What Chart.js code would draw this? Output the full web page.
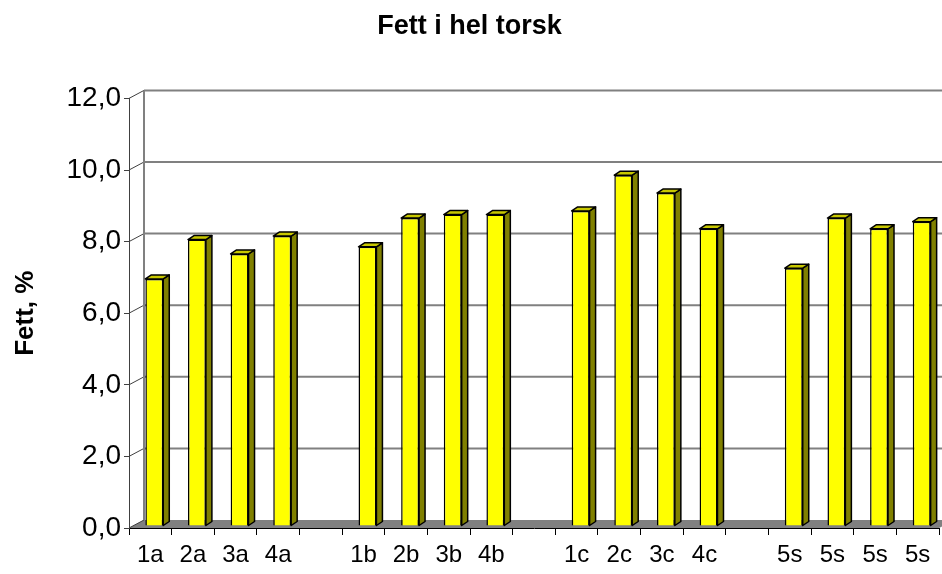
<!DOCTYPE html>
<html>
<head>
<meta charset="utf-8">
<script src="https://cdn.jsdelivr.net/npm/chart.js@4/dist/chart.umd.min.js"></script>
<style>
  html, body { margin: 0; padding: 0; background: #fff; }
  #boks { width: 942px; height: 574px; }
</style>
</head>
<body>
<div id="boks"><canvas id="fettChart"></canvas></div>
<script>
// Prøvenavn (tom streng = mellomrom mellom gruppene)
const kategorier = ['1a', '2a', '3a', '4a', '', '1b', '2b', '3b', '4b', '', '1c', '2c', '3c', '4c', '', '5s', '5s', '5s', '5s'];
// Fett i hel torsk, %
const fettVerdier = [6.9, 8.0, 7.6, 8.1, null, 7.8, 8.6, 8.7, 8.7, null, 8.8, 9.8, 9.3, 8.3, null, 7.2, 8.6, 8.3, 8.5];
const yMerker = [0, 2, 4, 6, 8, 10, 12];

// 3D-forskyvning for bakveggen og søylene
const veggDx = 15, veggDy = -8;
const soyleDx = 4, soyleDy = -2;
const dybdeDx = 6, dybdeDy = -4;

const veggPlugin = {
    id: 'vegg3d',
    beforeDraw(chart) {
        const c = chart.ctx;
        const a = chart.chartArea;
        const y = chart.scales.y;
        c.save();
        c.fillStyle = '#ffffff';
        c.fillRect(0, 0, chart.width, chart.height);

        // gulvet
        const y0 = y.getPixelForValue(0);
        c.fillStyle = '#808080';
        c.beginPath();
        c.moveTo(a.left, y0);
        c.lineTo(a.left + veggDx, y0 + veggDy);
        c.lineTo(a.right + veggDx, y0 + veggDy);
        c.lineTo(a.right, y0);
        c.closePath();
        c.fill();

        // bakveggens rutenett og skrålinjer
        yMerker.forEach(function (v) {
            const yp = y.getPixelForValue(v);
            if (v > 0) {
                c.strokeStyle = '#808080';
                c.lineWidth = 2;
                c.beginPath();
                c.moveTo(a.left + veggDx, yp + veggDy);
                c.lineTo(chart.width + 5, yp + veggDy);
                c.stroke();
            }
            c.strokeStyle = '#404040';
            c.lineWidth = 1;
            c.beginPath();
            c.moveTo(a.left, yp);
            c.lineTo(a.left + veggDx, yp + veggDy);
            c.stroke();
        });
        c.strokeStyle = '#808080';
        c.lineWidth = 2;
        c.beginPath();
        c.moveTo(a.left + veggDx, a.top + veggDy);
        c.lineTo(a.left + veggDx, y0 + veggDy);
        c.stroke();
        c.restore();
    },
    beforeDatasetsDraw(chart) {
        // side- og toppflater på søylene
        const c = chart.ctx;
        const meta = chart.getDatasetMeta(0);
        c.save();
        c.lineWidth = 1.5;
        c.strokeStyle = '#000000';
        c.lineJoin = 'round';
        meta.data.forEach(function (bar, i) {
            if (fettVerdier[i] === null) return;
            const p = bar.getProps(['x', 'y', 'base', 'width'], true);
            const venstre = p.x - p.width / 2 + soyleDx;
            const hoyre = p.x + p.width / 2 + soyleDx;
            const topp = p.y + soyleDy;
            const bunn = p.base + soyleDy;
            c.fillStyle = '#808000';
            c.beginPath();
            c.moveTo(hoyre, topp);
            c.lineTo(hoyre + dybdeDx, topp + dybdeDy);
            c.lineTo(hoyre + dybdeDx, bunn + dybdeDy);
            c.lineTo(hoyre, bunn);
            c.closePath();
            c.fill();
            c.stroke();
            c.fillStyle = '#c8c800';
            c.beginPath();
            c.moveTo(venstre, topp);
            c.lineTo(venstre + dybdeDx, topp + dybdeDy);
            c.lineTo(hoyre + dybdeDx, topp + dybdeDy);
            c.lineTo(hoyre, topp);
            c.closePath();
            c.fill();
            c.stroke();
        });
        c.restore();
    },
    beforeDatasetDraw(chart) {
        chart.ctx.save();
        chart.ctx.translate(soyleDx, soyleDy);
    },
    afterDatasetDraw(chart) {
        chart.ctx.restore();
    }
};

const ctx = document.getElementById('fettChart').getContext('2d');
const fettChart = new Chart(ctx, {
    type: 'bar',
    data: {
        labels: kategorier,
        datasets: [{
            label: 'Fett, %',
            data: fettVerdier,
            backgroundColor: '#ffff00',
            borderColor: '#000000',
            borderWidth: 1.5,
            barPercentage: 0.42,
            categoryPercentage: 1.0,
            clip: false
        }]
    },
    options: {
        responsive: true,
        maintainAspectRatio: false,
        animation: false,
        layout: { padding: { left: 0, right: 3, top: 0, bottom: 0 } },
        plugins: {
            legend: { display: false },
            tooltip: { enabled: false },
            title: {
                display: true,
                text: 'Fett i hel torsk',
                color: '#000',
                font: { family: 'Arial, "Liberation Sans"', size: 27, weight: 'bold' },
                padding: { top: 10, bottom: 56 }
            }
        },
        scales: {
            x: {
                grid: { display: true, drawOnChartArea: false, drawTicks: true, tickLength: 7, color: '#000', offset: true },
                border: { display: true, color: '#000', width: 1 },
                ticks: {
                    color: '#000',
                    font: { family: 'Arial, "Liberation Sans"', size: 24 },
                    padding: 6,
                    maxRotation: 0,
                    autoSkip: false
                },
                afterFit(scale) { scale.height = 46; }
            },
            y: {
                min: 0,
                max: 12,
                grid: { display: true, drawOnChartArea: false, drawTicks: true, tickLength: 5, color: '#404040' },
                border: { display: true, color: '#404040', width: 1 },
                ticks: {
                    stepSize: 2,
                    color: '#000',
                    padding: 3,
                    font: { family: 'Arial, "Liberation Sans"', size: 28 },
                    callback: function (v) { return v.toFixed(1).replace('.', ','); }
                },
                title: {
                    display: true,
                    text: 'Fett, %',
                    color: '#000',
                    font: { family: 'Arial, "Liberation Sans"', size: 26, weight: 'bold' },
                    padding: { top: 10, bottom: 0 }
                },
                afterFit(scale) { scale.width = 129; }
            }
        }
    },
    plugins: [veggPlugin]
});
</script>
</body>
</html>
